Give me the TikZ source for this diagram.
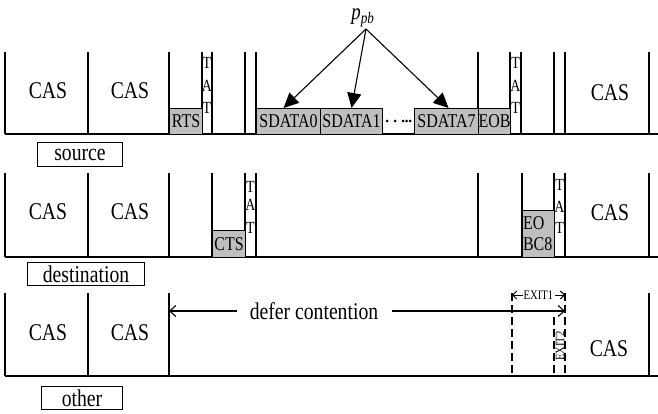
\documentclass[tikz,border=0pt]{standalone}
\usepackage{fontspec}
\setmainfont{Liberation Serif}[FakeStretch=0.82]
\usetikzlibrary{arrows.meta}
\begin{document}
\begin{tikzpicture}[x=1pt,y=-1pt,
  vl/.style={line width=1.2pt},
  bl/.style={line width=1.6pt},
  dl/.style={line width=1.1pt, dash pattern=on 8pt off 4pt},
  gbox/.style={draw, line width=1.1pt, fill=gray!50, inner sep=0pt, anchor=north west, font=\fontsize{19.5}{21}\selectfont},
  cas/.style={font=\fontsize{24}{26}\selectfont, inner sep=0pt},
  lab/.style={draw, line width=1pt, inner sep=0pt, anchor=north west, font=\fontsize{24}{26}\selectfont},
  tat/.style={font=\fontsize{17}{18}\selectfont, inner sep=0pt},
  ptr/.style={-{Triangle[length=15pt,width=14pt]}, line width=1.1pt},
  barb/.style={line width=1.1pt, -{Straight Barb[length=6pt,width=11pt]}},
  sbarb/.style={line width=1pt, -{Straight Barb[length=4pt,width=8pt]}},
]
\useasboundingbox (0,0) rectangle (658,414);

% ---------- row 1: source ----------
\foreach \x in {5,88,169,202,212,245,256,478,510,521,554,565,649}
  \draw[vl] (\x,52) -- (\x,134);
\draw[bl] (5,134) -- (658,134);
\node[cas] (c11) at (48,91) {CAS};
\node[cas] (c12) at (130,91) {CAS};
\node[cas] (c13) at (610,93) {CAS};
\node[gbox, minimum width=33, minimum height=26] (rts) at (169,108) {RTS};
\node[gbox, minimum width=64, minimum height=26] (sd0) at (256,108) {SDATA0};
\node[gbox, minimum width=62, minimum height=26] (sd1) at (320,108) {SDATA1};
\node[gbox, minimum width=64, minimum height=26] (sd7) at (414,108) {SDATA7};
\node[gbox, minimum width=32, minimum height=26] (eob) at (478,108) {EOB};
\foreach \x/\y in {387/121,395/121,403/121,406.5/121,410/121}
  \fill (\x,\y) circle[radius=1.5pt];
\node[tat] (t11) at (207,63) {T};
\node[tat] (t12) at (207,86) {A};
\node[tat] (t13) at (207,108) {T};
\node[tat] (t14) at (515.5,63) {T};
\node[tat] (t15) at (515.5,86) {A};
\node[tat] (t16) at (515.5,108) {T};
\node[font=\fontsize{23}{25}\selectfont\itshape, inner sep=0pt] (ppb) at (363,18) {p\textsubscript{pb}};
\coordinate (ps) at (366,29);
\draw[ptr] (ps) -- ([xshift=-5pt]sd0.north);
\draw[ptr] (ps) -- (sd1.north);
\draw[ptr] (ps) -- ([xshift=2pt]sd7.north);
\node[lab, minimum width=85, minimum height=24] (src) at (37,142) {source};

% ---------- row 2: destination ----------
\foreach \x in {5,88,169,212,245,256,478,522,554,565,649}
  \draw[vl] (\x,173) -- (\x,257);
\draw[bl] (5,257) -- (658,257);
\node[cas] (c21) at (48,212) {CAS};
\node[cas] (c22) at (130,212) {CAS};
\node[cas] (c23) at (610,213) {CAS};
\node[gbox, minimum width=33, minimum height=27] (cts) at (212,230) {CTS};
\node[gbox, minimum width=32, minimum height=47, text width=31pt, align=left] (eobc) at (522,210) {EO\\BC8};
\node[tat] (t21) at (250.5,187) {T};
\node[tat] (t22) at (250.5,205) {A};
\node[tat] (t23) at (250.5,228) {T};
\node[tat] (t24) at (559.5,185) {T};
\node[tat] (t25) at (559.5,207) {A};
\node[tat] (t26) at (559.5,228) {T};
\node[lab, minimum width=117, minimum height=23] (dst) at (27,262) {destination};

% ---------- row 3: other ----------
\foreach \x in {5,88,169,649}
  \draw[vl] (\x,293) -- (\x,376);
\draw[bl] (5,376) -- (658,376);
\draw[dl] (512,293) -- (512,376);
\draw[dl] (554,317) -- (554,376);
\draw[dl] (565,293) -- (565,376);
\node[cas] (c31) at (48,333) {CAS};
\node[cas] (c32) at (130,333) {CAS};
\node[cas] (c33) at (609,349) {CAS};
\node[cas] (defer) at (314,311) {defer contention};
\coordinate (l3) at (169,311);
\coordinate (r3) at (565,311);
\draw[barb] ([xshift=-13pt]defer.west) -- (l3);
\draw[barb] ([xshift=14pt]defer.east) -- (r3);
\node[font=\fontsize{13}{14}\selectfont, inner sep=1pt] (exit1) at (538.5,295) {EXIT1};
\coordinate (e1l) at (512,295);
\coordinate (e1r) at (565,295);
\draw[sbarb] (exit1.west) -- (e1l);
\draw[sbarb] (exit1.east) -- (e1r);
\node[font=\fontsize{13}{14}\selectfont, inner sep=0pt, rotate=90] (exit2) at (560,346) {EXIT2};
\node[lab, minimum width=81, minimum height=23] (oth) at (41,386) {other};
\end{tikzpicture}
\end{document}
